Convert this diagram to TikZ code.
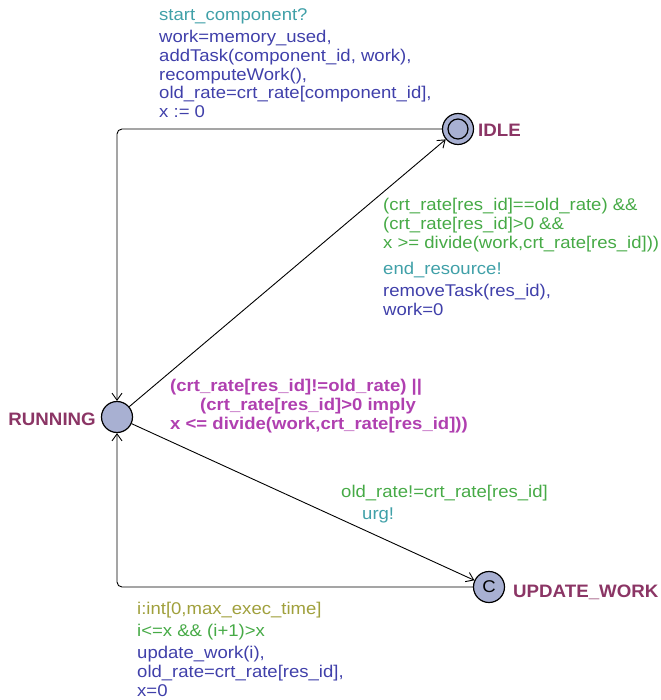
\documentclass[tikz,border=0pt]{standalone}
\usepackage{fontspec}
\setmainfont{Liberation Sans}
\newfontfamily\lblfont{Liberation Sans}[FakeStretch=1.09]
\newfontfamily\namefont{Liberation Sans}[FakeStretch=1.04]
\usetikzlibrary{arrows.meta}
\definecolor{namecol}{RGB}{139,53,101}
\definecolor{selcol}{RGB}{160,160,60}
\definecolor{guardcol}{RGB}{70,170,70}
\definecolor{synccol}{RGB}{64,160,168}
\definecolor{updcol}{RGB}{64,64,170}
\definecolor{invcol}{RGB}{176,64,176}
\definecolor{locfill}{RGB}{168,176,210}
\tikzset{
  loc/.style={circle,draw=black,line width=1.2pt,fill=locfill,minimum size=31pt,inner sep=0pt},
  locname/.style={text=namecol,font=\namefont\fontsize{18}{20}\selectfont\bfseries,inner sep=0pt},
  lbl/.style={inner sep=0pt,anchor=north west,align=left,font=\lblfont\fontsize{17}{18.8}\selectfont},
  sel/.style={lbl,text=selcol},
  grd/.style={lbl,text=guardcol},
  syn/.style={lbl,text=synccol},
  upd/.style={lbl,text=updcol},
  inv/.style={lbl,text=invcol,font=\lblfont\fontsize{17}{18.8}\selectfont\bfseries},
  edge/.style={draw=black,line width=0.9pt,-{Straight Barb[length=7pt,width=10pt]}}
}
\begin{document}
\begin{tikzpicture}[x=1pt,y=-1pt]
\useasboundingbox (0,0) rectangle (660,700);
% locations
\node[loc] (idle) at (458,129) {};
\draw[line width=1.2pt] (idle.center) circle (10pt);
\node[loc] (running) at (117,417) {};
\node[loc,font=\lblfont\fontsize{17}{18}\selectfont] (uw) at (489,587) {C};
\node[locname,anchor=base west] (idlename) at (478,137) {IDLE};
\node[locname,anchor=base east] (runname) at (96,425) {RUNNING};
\node[locname,anchor=base west] (uwname) at (513,597) {UPDATE\_WORK};
% edges
\draw[edge,rounded corners=5pt] (idle.west) -- (running.north |- idle.west) -- (running.north);
\draw[edge] (running) -- (idle);
\draw[edge] (running) -- (uw);
\draw[edge,rounded corners=5pt] (uw.west) -- (running.south |- uw.west) -- (running.south);
% labels IDLE -> RUNNING
\node[syn] (s1) at (159,8) {start\_component?};
\node[upd] (u1) at (159,30) {work=memory\_used,\\addTask(component\_id, work),\\recomputeWork(),\\old\_rate=crt\_rate[component\_id],\\x := 0};
% labels RUNNING -> IDLE
\node[grd] (g2) at (383,198) {(crt\_rate[res\_id]==old\_rate) \&\&\\(crt\_rate[res\_id]>0 \&\&\\x >= divide(work,crt\_rate[res\_id]))};
\node[syn] (s2) at (383,262) {end\_resource!};
\node[upd] (u2) at (383,284) {removeTask(res\_id),\\work=0};
% invariant RUNNING
\node[inv] (inv) at (170,379) {(crt\_rate[res\_id]!=old\_rate) ||\\\hspace*{30pt}(crt\_rate[res\_id]>0 imply\\x <= divide(work,crt\_rate[res\_id]))};
% labels RUNNING -> UPDATE_WORK
\node[grd] (g3) at (341,485) {old\_rate!=crt\_rate[res\_id]};
\node[syn] (s3) at (362,508) {urg!};
% labels UPDATE_WORK -> RUNNING
\node[sel] (sel4) at (137,602) {i:int[0,max\_exec\_time]};
\node[grd] (g4) at (137,624) {i<=x \&\& (i+1)>x};
\node[upd] (u4) at (137,646) {update\_work(i),\\old\_rate=crt\_rate[res\_id],\\x=0};
\end{tikzpicture}
\end{document}
